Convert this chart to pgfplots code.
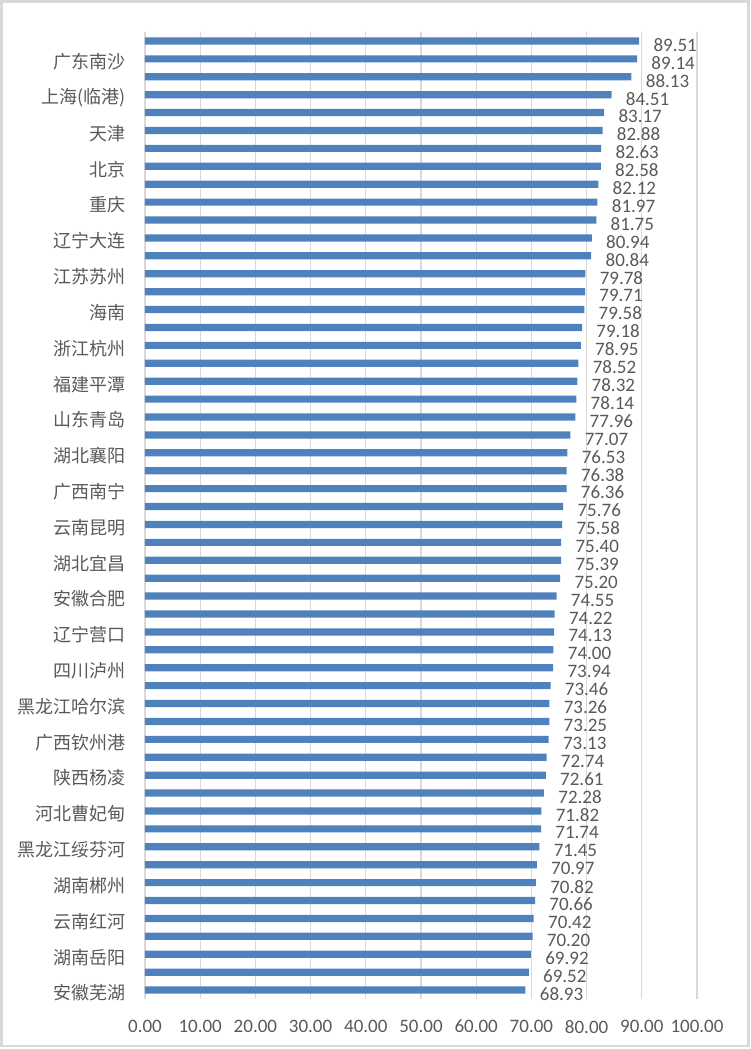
\documentclass[border=0pt]{standalone}
\usepackage{pgfplots}
\pgfplotsset{compat=1.18}
\usepackage{fontspec}
\setmainfont{Carlito}
\newfontfamily\cjk{Noto Sans CJK SC}
\definecolor{barblue}{RGB}{79,129,189}
\definecolor{gridgray}{RGB}{217,217,217}
\definecolor{txtgray}{RGB}{89,89,89}
\begin{document}
\begin{tikzpicture}
\path[use as bounding box] (0,0) rectangle (375pt,524.5pt);
\draw[gridgray, line width=1.2pt] (0.8pt,1.5pt) rectangle (374.2pt,523.7pt);
\begin{axis}[
  at={(72.5pt,25pt)}, anchor=south west,
  scale only axis, width=276pt, height=483.5pt,
  xbar, bar width=3.6pt,
  xmin=0, xmax=100,
  ymin=-0.5, ymax=53.5, y dir=reverse,
  axis line style={draw=none},
  tick style={draw=none},
  xtick={0,10,...,100},
  xmajorgrids, grid style={gridgray, line width=0.6pt},
  major tick length=0pt,
  ytick={1,3,...,53},
  yticklabels={广东南沙,上海(临港),天津,北京,重庆,辽宁大连,江苏苏州,海南,浙江杭州,福建平潭,山东青岛,湖北襄阳,广西南宁,云南昆明,湖北宜昌,安徽合肥,辽宁营口,四川泸州,黑龙江哈尔滨,广西钦州港,陕西杨凌,河北曹妃甸,黑龙江绥芬河,湖南郴州,云南红河,湖南岳阳,安徽芜湖},
  yticklabel style={font=\cjk\fontsize{9}{10}\selectfont, text=txtgray, xshift=-6pt, yshift=-1.5pt},
  xticklabel style={font=\fontsize{9.5}{10}\selectfont, text=txtgray, yshift=-7pt},
  xticklabel={\pgfmathprintnumber[fixed,fixed zerofill,precision=2]{\tick}},
  /pgf/number format/assume math mode=true,
  nodes near coords,
  nodes near coords style={font=\fontsize{9.5}{10}\selectfont, text=txtgray, anchor=west, inner sep=0pt, xshift=7pt, yshift=-2pt,
    /pgf/number format/fixed, /pgf/number format/fixed zerofill, /pgf/number format/precision=2},
  clip=false,
]
\addplot[fill=barblue, draw=none] coordinates {
(89.51,0) (89.14,1) (88.13,2) (84.51,3) (83.17,4) (82.88,5) (82.63,6) (82.58,7) (82.12,8) (81.97,9)
(81.75,10) (80.94,11) (80.84,12) (79.78,13) (79.71,14) (79.58,15) (79.18,16) (78.95,17) (78.52,18) (78.32,19)
(78.14,20) (77.96,21) (77.07,22) (76.53,23) (76.38,24) (76.36,25) (75.76,26) (75.58,27) (75.40,28) (75.39,29)
(75.20,30) (74.55,31) (74.22,32) (74.13,33) (74.00,34) (73.94,35) (73.46,36) (73.26,37) (73.25,38) (73.13,39)
(72.74,40) (72.61,41) (72.28,42) (71.82,43) (71.74,44) (71.45,45) (70.97,46) (70.82,47) (70.66,48) (70.42,49)
(70.20,50) (69.92,51) (69.52,52) (68.93,53)
};
\end{axis}
\end{tikzpicture}
\end{document}
